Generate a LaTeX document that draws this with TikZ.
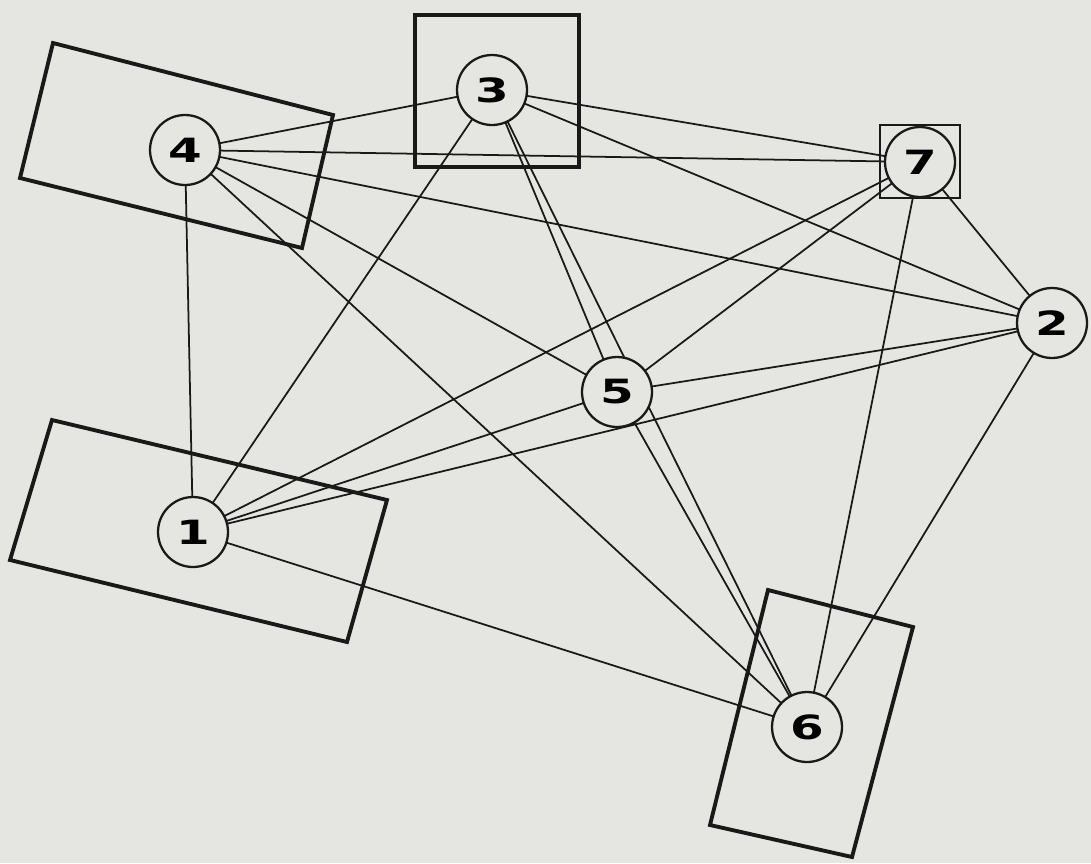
\documentclass[tikz,border=0pt]{standalone}
\usepackage{fontspec}
\newfontfamily\numfont{DejaVu Sans}
\definecolor{paper}{RGB}{229,229,225}
\definecolor{ink}{RGB}{25,25,25}
\tikzset{
  vertex/.style={circle,draw=ink,line width=1.3pt,fill=paper,minimum size=1.4cm,inner sep=0pt,
    font=\numfont\bfseries\fontsize{19}{19}\selectfont},
  edge/.style={draw=ink,line width=1pt},
  zone/.style={draw=ink,line width=2.2pt,line join=miter},
  thinzone/.style={draw=ink,line width=1.1pt}
}
\newcommand{\wide}[1]{\scalebox{1.45}[1]{#1}}
\begin{document}
\begin{tikzpicture}[x=0.02cm,y=-0.02cm]
\useasboundingbox (0,0) rectangle (1091,863);
\fill[paper] (0,0) rectangle (1091,863);
% zones
\draw[zone] (53,43) -- (333,115) -- (302,248) -- (20,178) -- cycle;
\draw[zone] (415,15) rectangle (579,167);
\draw[thinzone] (880,125) rectangle (960,198);
\draw[zone] (52,420) -- (387,500) -- (347,642) -- (10,560) -- cycle;
\draw[zone] (768,590) -- (913,627) -- (852,857) -- (710,825) -- cycle;
% vertex positions
\coordinate (p1) at (193,532);
\coordinate (p2) at (1052,323);
\coordinate (p3) at (492,90);
\coordinate (p4) at (185,150);
\coordinate (p5) at (617,392);
\coordinate (p6) at (807,727);
\coordinate (p7) at (920,162);
% edges (complete graph)
\foreach \a/\b in {1/2,1/3,1/4,1/5,1/6,1/7,2/3,2/4,2/5,2/6,2/7,3/4,3/5,3/6,3/7,4/5,4/6,4/7,5/6,5/7,6/7}
  \draw[edge] (p\a) -- (p\b);
% vertices
\foreach \i in {1,...,7}
  \node[vertex] (n\i) at (p\i) {\wide{\i}};
\end{tikzpicture}
\end{document}
